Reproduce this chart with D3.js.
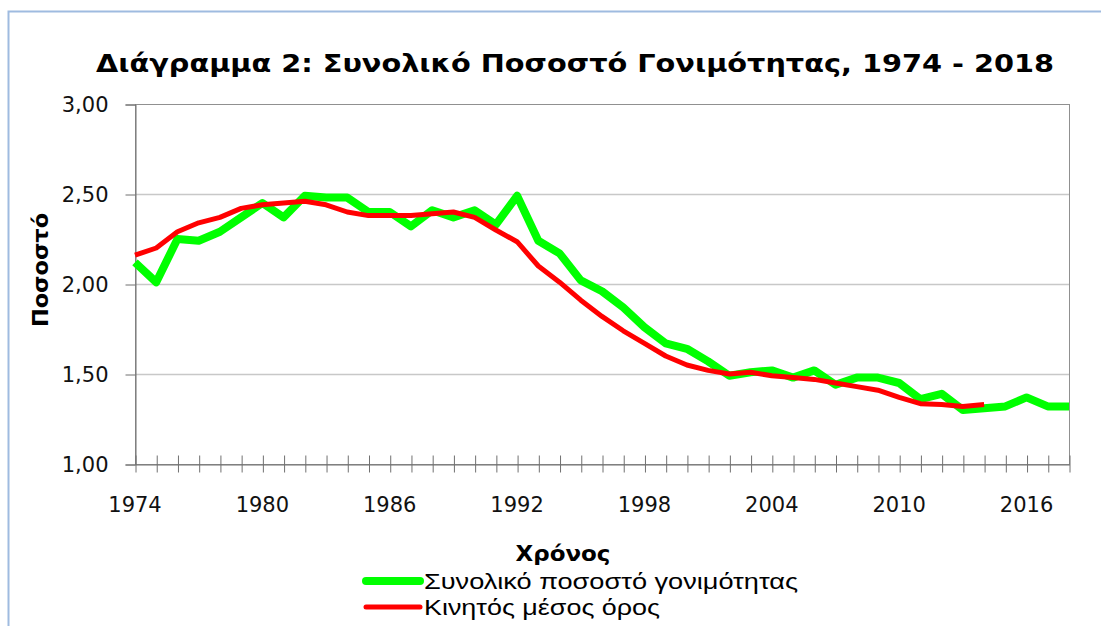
<!DOCTYPE html>
<html>
<head>
<meta charset="utf-8">
<script src="https://cdn.jsdelivr.net/npm/d3@7"></script>
<style>
  body { margin: 0; background: #fff; }
  svg { display: block; }
</style>
</head>
<body>
<svg></svg>
<script>
// Data
var years = [1974, 1975, 1976, 1977, 1978, 1979, 1980, 1981, 1982, 1983, 1984, 1985, 1986, 1987, 1988,
  1989, 1990, 1991, 1992, 1993, 1994, 1995, 1996, 1997, 1998, 1999, 2000, 2001, 2002, 2003,
  2004, 2005, 2006, 2007, 2008, 2009, 2010, 2011, 2012, 2013, 2014, 2015, 2016, 2017, 2018];
var fertility = [2.12, 2.01, 2.25, 2.24, 2.29, 2.37, 2.45, 2.37, 2.49, 2.48, 2.48, 2.40, 2.40, 2.32, 2.41,
  2.37, 2.41, 2.33, 2.49, 2.24, 2.17, 2.02, 1.96, 1.87, 1.76, 1.67, 1.64, 1.57, 1.49, 1.51,
  1.52, 1.48, 1.52, 1.44, 1.48, 1.48, 1.45, 1.36, 1.39, 1.30, 1.31, 1.32, 1.37, 1.32, 1.32];
// moving average stops at 2014
var movingAvg = [2.16, 2.20, 2.29, 2.34, 2.37, 2.42, 2.44, 2.45, 2.46, 2.44, 2.40, 2.38, 2.38, 2.38, 2.39,
  2.40, 2.37, 2.30, 2.235, 2.10, 2.01, 1.91, 1.82, 1.74, 1.67, 1.60, 1.55, 1.52, 1.50, 1.51,
  1.49, 1.48, 1.47, 1.45, 1.43, 1.41, 1.37, 1.335, 1.33, 1.32, 1.33];
var yTicks = [1.0, 1.5, 2.0, 2.5, 3.0];
var yearLabels = [1974, 1980, 1986, 1992, 1998, 2004, 2010, 2016];
var seriesNames = ["Συνολικό ποσοστό γονιμότητας", "Κινητός μέσος όρος"];
var seriesColors = ["#00ff00", "#ff0000"];

var W = 1101, H = 626;
var plot = { left: 135, right: 1069, top: 104, bottom: 464 };

var svg = d3.select("svg")
    .attr("width", W)
    .attr("height", H)

// outer chart frame (right and bottom fall off the picture)
svg.append("rect")
    .attr("x", 8.5).attr("y", 11.5)
    .attr("width", 1110).attr("height", 700)
    .attr("fill", "#fff")
    .attr("stroke", "#9fbbe0")
    .attr("stroke-width", 2)

var x = d3.scaleLinear().domain([years[0], years[years.length - 1]]).range([plot.left, plot.right])
var y = d3.scaleLinear().domain([1, 3]).range([plot.bottom, plot.top])

// title
svg.append("text")
    .attr("x", 575).attr("y", 72)
    .attr("text-anchor", "middle")
    .attr("font-family", "DejaVu Sans")
    .attr("font-weight", "bold")
    .attr("font-size", 25)
    .attr("textLength", 958)
    .attr("lengthAdjust", "spacingAndGlyphs")
    .text("Διάγραμμα 2: Συνολικό Ποσοστό Γονιμότητας, 1974 - 2018")

// gridlines
svg.append("g")
    .selectAll("line")
    .data(yTicks.filter(function (d) { return d > 1 && d < 3 }))
    .join("line")
    .attr("x1", plot.left).attr("x2", plot.right)
    .attr("y1", function (d) { return Math.round(y(d)) + 0.5 })
    .attr("y2", function (d) { return Math.round(y(d)) + 0.5 })
    .attr("stroke", "#c8c8c8")
    .attr("stroke-width", 1.5)

// plot area border
svg.append("rect")
    .attr("x", plot.left + 0.5).attr("y", plot.top + 0.5)
    .attr("width", plot.right - plot.left).attr("height", plot.bottom - plot.top)
    .attr("fill", "none")
    .attr("stroke", "#909090")
    .attr("stroke-width", 1)

// y axis
var yAxis = svg.append("g")
    .attr("transform", "translate(" + (plot.left + 0.5) + ",0.5)")
    .call(d3.axisLeft(y).tickValues(yTicks).tickSize(10).tickPadding(17)
        .tickFormat(function (d) { return d3.format(".2f")(d).replace(".", ",") }))
yAxis.select(".domain").attr("stroke", "#707070")
yAxis.selectAll(".tick line").attr("stroke", "#707070")
yAxis.selectAll("text")
    .attr("font-family", "DejaVu Sans")
    .attr("font-size", 21)
    .attr("fill", "#111")

// x axis, crossing ticks every year
var xAxis = svg.append("g")
    .attr("transform", "translate(0.5," + (plot.bottom + 0.5) + ")")
    .call(d3.axisBottom(x).tickValues(years).tickSize(8).tickSizeOuter(0).tickFormat(""))
xAxis.select(".domain").attr("stroke", "#707070")
xAxis.selectAll(".tick line")
    .attr("y1", -9)
    .attr("stroke", "#707070")

svg.append("g")
    .selectAll("text")
    .data(yearLabels)
    .join("text")
    .attr("x", function (d) { return x(d) })
    .attr("y", 512)
    .attr("text-anchor", "middle")
    .attr("font-family", "DejaVu Sans")
    .attr("font-size", 21)
    .attr("fill", "#111")
    .text(function (d) { return d })

// axis titles
svg.append("text")
    .attr("transform", "translate(48,270) rotate(-90)")
    .attr("text-anchor", "middle")
    .attr("font-family", "DejaVu Sans")
    .attr("font-weight", "bold")
    .attr("font-size", 21)
    .attr("textLength", 114)
    .attr("lengthAdjust", "spacingAndGlyphs")
    .text("Ποσοστό")

svg.append("text")
    .attr("x", 563).attr("y", 561)
    .attr("text-anchor", "middle")
    .attr("font-family", "DejaVu Sans")
    .attr("font-weight", "bold")
    .attr("font-size", 21)
    .attr("textLength", 95)
    .attr("lengthAdjust", "spacingAndGlyphs")
    .text("Χρόνος")

// lines
var line = d3.line()
    .x(function (d) { return x(d.year) })
    .y(function (d) { return y(d.value) })

var series = [
  { values: fertility.map(function (v, i) { return { year: years[i], value: v } }), width: 8 },
  { values: movingAvg.map(function (v, i) { return { year: years[i], value: v } }), width: 5 }
]

svg.append("g")
    .selectAll("path")
    .data(series)
    .join("path")
    .attr("d", function (d) { return line(d.values) })
    .attr("fill", "none")
    .attr("stroke", function (d, i) { return seriesColors[i] })
    .attr("stroke-width", function (d) { return d.width })
    .attr("stroke-linejoin", "round")

// legend
var legend = svg.append("g")
    .selectAll("g")
    .data(seriesNames)
    .join("g")
    .attr("transform", function (d, i) { return "translate(0," + (581 + i * 26) + ")" })

legend.append("line")
    .attr("x1", 366).attr("x2", 420)
    .attr("stroke", function (d, i) { return seriesColors[i] })
    .attr("stroke-width", function (d, i) { return series[i].width })
    .attr("stroke-linecap", "round")

legend.append("text")
    .attr("x", 424)
    .attr("y", 8)
    .attr("font-family", "Liberation Sans")
    .attr("font-size", 22)
    .attr("fill", "#000")
    .attr("textLength", function (d, i) { return i == 0 ? 374 : 236 })
    .attr("lengthAdjust", "spacingAndGlyphs")
    .text(function (d) { return d })
</script>
</body>
</html>
